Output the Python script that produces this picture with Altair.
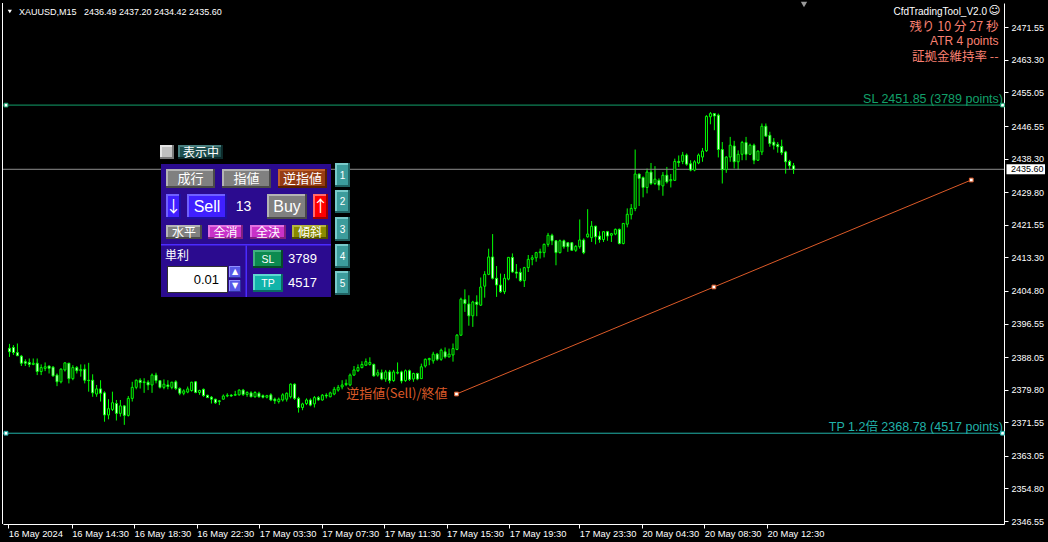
import altair as alt
import pandas as pd

# ---------------- XAUUSD M15 candles ----------------
opens = [
    2390.3, 2390.5, 2389.2, 2388.3, 2386.9, 2386.7, 2386.2, 2386.5, 2384.4, 2385.2,
    2385.8, 2385.5, 2383.5, 2381.8, 2384.8, 2386.5, 2382.6, 2385.4, 2384.6, 2385.0,
    2382.2, 2382.2, 2378.7, 2380.0, 2379.0, 2373.4, 2374.8, 2376.3, 2373.8, 2375.7,
    2373.3, 2377.6, 2380.4, 2382.2, 2381.6, 2381.7, 2381.0, 2383.5, 2382.1, 2380.4,
    2381.0, 2380.4, 2381.8, 2380.1, 2378.9, 2379.2, 2379.6, 2381.8, 2379.1, 2379.9,
    2378.4, 2377.9, 2377.4, 2376.8, 2377.4, 2378.2, 2378.4, 2378.4, 2378.5, 2379.7,
    2378.6, 2379.0, 2378.0, 2378.9, 2378.3, 2377.9, 2378.5, 2377.4, 2376.8, 2377.2,
    2377.4, 2378.0, 2381.2, 2377.6, 2375.3, 2376.3, 2377.2, 2376.2, 2377.8, 2377.2,
    2378.4, 2378.0, 2378.7, 2379.7, 2380.5, 2381.1, 2381.0, 2383.5, 2384.6, 2385.4,
    2386.0, 2386.2, 2386.2, 2383.5, 2384.1, 2382.5, 2384.3, 2382.1, 2384.0, 2384.3,
    2382.1, 2384.6, 2382.5, 2383.9, 2382.6, 2385.8, 2387.4, 2387.1, 2388.8, 2387.5,
    2389.4, 2388.1, 2388.6, 2390.0, 2393.6, 2402.6, 2401.5, 2398.5, 2402.0, 2401.2,
    2406.0, 2409.0, 2413.4, 2408.0, 2406.3, 2404.6, 2407.8, 2413.3, 2409.6, 2409.5,
    2407.4, 2410.7, 2412.8, 2413.2, 2414.5, 2414.5, 2416.6, 2418.9, 2417.5, 2414.5,
    2417.5, 2417.0, 2417.0, 2415.1, 2416.0, 2417.7, 2418.5, 2418.3, 2421.2, 2418.7,
    2417.8, 2419.8, 2418.9, 2419.2, 2420.4, 2416.8, 2421.7, 2424.1, 2425.7, 2434.4,
    2433.5, 2431.0, 2434.9, 2432.0, 2432.8, 2431.4, 2434.1, 2432.7, 2432.8, 2437.6,
    2437.6, 2439.2, 2437.0, 2435.4, 2437.2, 2438.7, 2440.3, 2448.9, 2449.7, 2449.3,
    2440.6, 2435.5, 2438.7, 2441.5, 2437.5, 2439.4, 2442.4, 2439.4, 2441.7, 2437.9,
    2440.0, 2446.5, 2444.2, 2442.5, 2441.9, 2441.4, 2440.0, 2437.6, 2436.49,
]
highs = [
    2391.4, 2391.1, 2391.5, 2388.6, 2387.5, 2387.7, 2387.7, 2387.7, 2386.2, 2386.7,
    2385.9, 2385.8, 2383.9, 2385.2, 2386.7, 2386.6, 2386.0, 2385.8, 2386.2, 2386.2,
    2386.6, 2383.7, 2381.0, 2382.2, 2379.4, 2377.4, 2379.3, 2377.2, 2377.2, 2375.9,
    2378.2, 2381.8, 2382.4, 2382.7, 2382.7, 2382.2, 2383.9, 2384.1, 2382.2, 2382.4,
    2382.2, 2381.8, 2382.2, 2380.4, 2379.9, 2380.6, 2381.8, 2382.0, 2379.8, 2380.1,
    2378.5, 2378.2, 2377.5, 2377.2, 2378.6, 2378.9, 2378.7, 2379.5, 2379.9, 2380.0,
    2379.4, 2379.4, 2379.4, 2379.3, 2378.6, 2378.5, 2378.9, 2377.8, 2377.8, 2378.9,
    2379.1, 2381.4, 2381.4, 2378.0, 2376.5, 2377.6, 2377.6, 2378.2, 2378.2, 2378.7,
    2378.9, 2379.3, 2380.5, 2381.0, 2382.2, 2382.4, 2383.9, 2385.8, 2386.2, 2387.0,
    2387.7, 2388.0, 2386.4, 2384.9, 2384.9, 2384.8, 2384.8, 2384.8, 2386.7, 2384.6,
    2384.9, 2384.9, 2384.1, 2384.1, 2386.4, 2387.7, 2387.9, 2389.4, 2389.1, 2390.2,
    2390.5, 2390.2, 2391.5, 2393.9, 2403.1, 2405.2, 2403.7, 2402.3, 2403.7, 2408.2,
    2409.8, 2415.5, 2419.2, 2411.1, 2409.2, 2409.1, 2413.4, 2414.3, 2411.6, 2410.5,
    2410.9, 2413.9, 2413.9, 2414.7, 2415.5, 2416.8, 2419.5, 2419.3, 2417.7, 2417.8,
    2417.8, 2417.2, 2417.2, 2416.4, 2422.9, 2418.1, 2425.5, 2422.5, 2421.3, 2419.9,
    2419.9, 2420.0, 2419.5, 2420.6, 2420.6, 2422.0, 2425.7, 2426.8, 2440.6, 2434.5,
    2433.8, 2435.8, 2437.2, 2436.4, 2433.3, 2434.9, 2436.2, 2434.4, 2438.3, 2439.1,
    2440.0, 2439.6, 2437.9, 2437.9, 2439.6, 2441.0, 2449.3, 2450.1, 2449.8, 2449.7,
    2442.5, 2438.9, 2443.8, 2442.8, 2440.4, 2442.8, 2443.8, 2442.1, 2442.1, 2440.4,
    2447.2, 2447.2, 2445.1, 2443.5, 2442.5, 2443.1, 2440.3, 2438.0, 2437.20,
]
lows = [
    2388.1, 2388.6, 2388.3, 2385.8, 2385.8, 2385.5, 2386.0, 2383.5, 2383.5, 2384.5,
    2383.9, 2383.1, 2380.7, 2381.4, 2384.4, 2381.4, 2382.2, 2383.9, 2383.1, 2381.4,
    2379.3, 2378.0, 2378.0, 2376.8, 2371.7, 2372.3, 2374.4, 2372.0, 2373.0, 2370.9,
    2373.0, 2376.8, 2379.9, 2380.1, 2379.0, 2379.7, 2379.0, 2381.4, 2380.1, 2379.9,
    2379.9, 2379.9, 2379.7, 2378.4, 2378.4, 2378.9, 2379.3, 2378.9, 2378.5, 2378.0,
    2377.7, 2376.3, 2376.2, 2375.9, 2377.3, 2377.9, 2378.0, 2378.2, 2378.3, 2378.2,
    2378.0, 2377.9, 2377.8, 2377.8, 2377.6, 2377.6, 2376.9, 2376.2, 2376.3, 2376.8,
    2376.8, 2377.6, 2377.2, 2374.0, 2374.6, 2375.9, 2375.6, 2375.3, 2377.0, 2377.0,
    2377.6, 2377.9, 2378.4, 2379.3, 2379.9, 2380.7, 2380.7, 2383.3, 2384.3, 2385.2,
    2385.8, 2385.9, 2383.1, 2383.1, 2382.2, 2381.8, 2381.4, 2381.8, 2383.7, 2381.4,
    2381.8, 2382.0, 2381.8, 2382.2, 2382.5, 2385.4, 2386.0, 2386.4, 2387.1, 2387.1,
    2387.7, 2388.0, 2386.9, 2389.8, 2393.4, 2399.5, 2396.0, 2395.7, 2398.4, 2401.0,
    2403.1, 2408.8, 2407.7, 2403.3, 2404.3, 2404.0, 2407.5, 2409.4, 2408.0, 2407.1,
    2405.8, 2409.6, 2411.3, 2412.2, 2413.0, 2413.3, 2416.0, 2416.4, 2411.3, 2414.3,
    2415.5, 2414.7, 2415.0, 2414.7, 2415.5, 2414.1, 2418.3, 2417.2, 2416.6, 2417.0,
    2417.2, 2417.5, 2417.2, 2418.9, 2416.6, 2416.6, 2420.9, 2422.9, 2425.0, 2426.3,
    2428.5, 2429.5, 2431.6, 2431.6, 2430.3, 2428.9, 2432.0, 2431.0, 2432.7, 2436.2,
    2436.9, 2436.5, 2435.1, 2435.1, 2436.9, 2437.5, 2440.0, 2447.0, 2445.5, 2438.6,
    2432.0, 2434.7, 2437.5, 2435.8, 2435.5, 2437.9, 2437.9, 2439.2, 2436.9, 2437.7,
    2439.2, 2443.8, 2441.3, 2440.6, 2439.8, 2439.2, 2434.5, 2435.5, 2434.42,
]
closes = [
    2389.4, 2389.2, 2388.4, 2386.5, 2386.5, 2386.2, 2386.5, 2384.4, 2385.4, 2385.6,
    2385.2, 2383.3, 2381.8, 2385.0, 2386.6, 2382.6, 2385.4, 2384.6, 2384.9, 2382.2,
    2382.1, 2379.0, 2380.0, 2378.9, 2373.4, 2375.0, 2376.5, 2373.8, 2375.7, 2373.3,
    2377.6, 2380.4, 2382.2, 2381.6, 2381.8, 2381.0, 2383.5, 2382.1, 2380.4, 2381.2,
    2380.6, 2381.7, 2380.1, 2378.9, 2379.5, 2380.0, 2381.7, 2379.1, 2379.6, 2378.3,
    2377.8, 2377.4, 2376.5, 2377.0, 2378.2, 2378.4, 2378.2, 2378.6, 2379.7, 2378.6,
    2379.1, 2378.0, 2379.1, 2378.0, 2377.9, 2378.3, 2377.2, 2377.0, 2377.4, 2378.5,
    2378.9, 2381.2, 2377.6, 2375.3, 2376.2, 2377.2, 2375.9, 2377.8, 2377.2, 2378.4,
    2378.2, 2379.0, 2379.9, 2380.4, 2381.0, 2381.4, 2383.5, 2384.8, 2385.4, 2386.2,
    2386.9, 2386.7, 2383.3, 2384.1, 2382.5, 2384.3, 2382.1, 2384.3, 2384.2, 2382.0,
    2384.6, 2382.4, 2383.9, 2382.5, 2385.6, 2387.5, 2387.7, 2388.8, 2387.5, 2389.8,
    2388.1, 2388.8, 2390.2, 2393.6, 2402.7, 2401.6, 2398.5, 2402.0, 2401.4, 2405.8,
    2409.0, 2413.4, 2408.0, 2406.3, 2404.6, 2408.0, 2413.3, 2409.6, 2409.3, 2407.4,
    2410.7, 2412.8, 2413.2, 2414.5, 2414.7, 2416.6, 2418.9, 2417.5, 2414.5, 2417.5,
    2416.0, 2416.0, 2415.1, 2416.1, 2417.7, 2414.5, 2419.2, 2421.2, 2418.5, 2417.8,
    2419.8, 2418.7, 2419.3, 2420.4, 2416.8, 2421.9, 2424.2, 2425.7, 2434.4, 2433.3,
    2431.0, 2434.9, 2432.0, 2433.1, 2431.6, 2434.1, 2432.4, 2433.0, 2437.6, 2437.3,
    2439.2, 2436.9, 2435.4, 2437.5, 2439.2, 2440.2, 2449.0, 2449.7, 2449.1, 2440.6,
    2435.5, 2438.7, 2441.7, 2437.5, 2439.4, 2442.4, 2439.4, 2441.7, 2437.9, 2440.2,
    2446.5, 2444.0, 2442.1, 2441.7, 2441.3, 2439.8, 2437.5, 2436.5, 2435.60,
]

# time axis: bar position of each label
time_tick_bars = [-0.3, 15.7, 31.45, 47.3, 63.05, 78.875, 94.625, 110.375,
                  126.2, 143.875, 159.7, 175.45, 191.3]
time_tick_labels = ["16 May 2024", "16 May 14:30", "16 May 18:30", "16 May 22:30",
                    "17 May 03:30", "17 May 07:30", "17 May 11:30", "17 May 15:30",
                    "17 May 19:30", "17 May 23:30", "20 May 04:30", "20 May 08:30",
                    "20 May 12:30"]

price_ticks = [2471.55, 2463.30, 2455.05, 2446.55, 2438.30, 2429.80, 2421.55, 2413.30,
               2404.80, 2396.55, 2388.05, 2379.80, 2371.55, 2363.05, 2354.80, 2346.55]

current_price = 2435.60
sl_price, sl_points = 2451.85, 3789
tp_price, tp_points = 2368.78, 4517
trend_bars = [112.875, 242.875]
trend_prices = [2378.71, 2432.89]

# ---------------- styling ----------------
W, H = 1001, 521
OX, OY = 3, 3          # plot origin inside the page
AXIS_FONT = "Liberation Sans"
CJK = "Noto Sans CJK JP"
CANDLE = "#00ff00"
SL_COLOR = "#12a06a"
TP_COLOR = "#20b2aa"
TREND_COLOR = "#dc5a28"
SALMON = "#fa8072"

xs = alt.Scale(domain=[-0.375, 249.875], nice=False, zero=False)
ys = alt.Scale(domain=[2345.80, 2477.70], nice=False, zero=False)

label_expr = ("[" + ",".join("'%s'" % t for t in time_tick_labels) + "][indexof(["
              + ",".join(str(v) for v in time_tick_bars) + "], datum.value)]")

x_axis = alt.Axis(values=time_tick_bars, labelExpr=label_expr, orient="bottom",
                  domainColor="white", domainWidth=1, tickColor="white", tickSize=4,
                  labelColor="white", labelFont=AXIS_FONT, labelFontSize=9.4,
                  labelAlign="left", labelBaseline="top", labelPadding=1,
                  labelFlush=False, labelOverlap=False, labelBound=False,
                  grid=False, title=None)
y_axis = alt.Axis(values=price_ticks, format=".2f", orient="right",
                  domainColor="white", domainWidth=1, tickColor="white", tickSize=4,
                  labelColor="white", labelFont=AXIS_FONT, labelFontSize=9,
                  labelAlign="left", labelBaseline="middle", labelPadding=3,
                  labelFlush=False, labelOverlap=False, labelBound=False,
                  grid=False, title=None)


def X(field):
    return alt.X(field, scale=xs, axis=x_axis)


def Y(field):
    return alt.Y(field, scale=ys, axis=y_axis)


bars = pd.DataFrame({"bar": range(len(opens)), "open": opens, "high": highs,
                     "low": lows, "close": closes})
bars["dir"] = ["up" if c >= o else "down" for o, c in zip(opens, closes)]

one = pd.DataFrame({"k": [0]})

# left frame edge
left_edge = alt.Chart(one).mark_rule(color="white", strokeWidth=1).encode(
    x=alt.value(-0.5), y=alt.value(0), y2=alt.value(H))

levels = pd.DataFrame({
    "price": [current_price, sl_price, tp_price],
    "color": ["#8e8e8e", SL_COLOR, TP_COLOR],
})
level_lines = alt.Chart(levels).mark_rule(strokeWidth=1).encode(
    y=Y("price:Q"), color=alt.Color("color:N", scale=None))

orders = pd.DataFrame({
    "price": [sl_price, tp_price],
    "color": [SL_COLOR, TP_COLOR],
    "label": ["SL %.2f (%d points)" % (sl_price, sl_points),
              "TP 1.2倍 %.2f (%d points)" % (tp_price, tp_points)],
})
order_labels = alt.Chart(orders).mark_text(
    align="right", baseline="alphabetic", dy=-2.5, fontSize=12.5,
    font=AXIS_FONT + ", " + CJK).encode(
    x=alt.value(1000), y=Y("price:Q"),
    text="label:N", color=alt.Color("color:N", scale=None))
order_left = alt.Chart(orders).mark_square(size=14, fill="white", strokeWidth=1, opacity=1).encode(
    x=alt.value(3), y=Y("price:Q"), stroke=alt.Stroke("color:N", scale=None))
order_right = alt.Chart(orders).mark_square(size=14, fill="white", strokeWidth=1, opacity=1).encode(
    x=alt.value(999.5), y=Y("price:Q"), stroke=alt.Stroke("color:N", scale=None))

trend = pd.DataFrame({"bar": trend_bars, "price": trend_prices})
trend_line = alt.Chart(trend).mark_line(color=TREND_COLOR, strokeWidth=1).encode(
    x=X("bar:Q"), y=Y("price:Q"))
anchors = pd.DataFrame({
    "bar": [trend_bars[0], sum(trend_bars) / 2, trend_bars[1]],
    "price": [trend_prices[0], sum(trend_prices) / 2, trend_prices[1]],
})
trend_anchors = alt.Chart(anchors).mark_square(size=14, fill="white", stroke=TREND_COLOR,
                                               strokeWidth=1, opacity=1).encode(
    x=X("bar:Q"), y=Y("price:Q"))
trend_text = alt.Chart(trend.head(1).assign(label="逆指値(Sell)/終値")).mark_text(
    align="right", baseline="middle", dx=-9, fontSize=13, font=CJK, color=TREND_COLOR).encode(
    x=X("bar:Q"), y=Y("price:Q"), text="label:N")

wicks = alt.Chart(bars).mark_rule(color=CANDLE, strokeWidth=1).encode(
    x=X("bar:Q"), y=Y("low:Q"), y2="high:Q")
bodies = alt.Chart(bars).mark_bar(size=2, stroke=CANDLE, strokeWidth=1).encode(
    x=X("bar:Q"), y=Y("open:Q"), y2="close:Q",
    fill=alt.Fill("dir:N", scale=alt.Scale(domain=["up", "down"], range=["#000000", "#ffffff"]),
                  legend=None))

# bid price tag on the price scale
cur = pd.DataFrame({"price": [current_price]})
cur_box = alt.Chart(cur).mark_rect(color="white", yOffset=-5, y2Offset=5).encode(
    x=alt.value(1003.5), x2=alt.value(1042), y=Y("price:Q"), y2="price:Q")
cur_text = alt.Chart(cur).mark_text(align="left", baseline="middle", font=AXIS_FONT,
                                    fontSize=9, color="black").encode(
    x=alt.value(1008), y=Y("price:Q"), text=alt.Text("price:Q", format=".2f"))

# ---------------- trading panel widgets (page pixels) ----------------
rects = []


def box(x0, y0, x1, y1, fill):
    rects.append({"x0": x0 - OX, "y0": y0 - OY, "x1": x1 - OX, "y1": y1 - OY, "fill": fill})


def button(x0, y0, x1, y1, face, light, dark, edge=2):
    box(x0, y0, x1, y1, dark)
    box(x0, y0, x1 - edge, y1 - edge, light)
    box(x0 + edge, y0 + edge, x1 - edge, y1 - edge, face)


GRAY = ("#808080", "#b4b4b4", "#4a4a4a")
MAGENTA = ("#c832c8", "#e070e0", "#802080")
TEAL_BTN = ("#3c9c9c", "#78caca", "#206262")

button(160, 145, 174, 159, "#c0c0c0", "#e4e4e4", "#7a7a7a")
button(178, 145, 223, 159, "#1e4e4e", "#4a8080", "#0c2a2a")
box(161, 164, 331, 297, "#2b0b8f")
button(166, 169, 215, 188, *GRAY)
button(222, 169, 271, 188, *GRAY)
button(278, 169, 327, 188, "#963c14", "#c0602c", "#5a2000")
button(166, 194, 181, 219, "#4020ff", "#7060ff", "#2010a0")
button(187, 194, 227, 219, "#4020ff", "#7060ff", "#2010a0")
button(267, 194, 307, 219, *GRAY)
button(313, 194, 328, 219, "#ff0000", "#ff6a6a", "#a00000")
button(166, 225, 202, 239, *GRAY)
button(208, 225, 243, 239, *MAGENTA)
button(250, 225, 286, 239, *MAGENTA)
button(292, 225, 328, 239, "#8a8a00", "#b4b440", "#505000")
box(161, 244, 331, 245.5, "#4b2bff")
box(245.5, 245.5, 247, 297, "#4b2bff")
box(167, 266, 228, 293, "#303030")
box(168, 267, 227, 292, "#ffffff")
button(229, 266, 241, 278, "#5858e8", "#9090ff", "#3030a0", edge=1)
button(229, 280, 241, 292, "#5858e8", "#9090ff", "#3030a0", edge=1)
button(253, 250, 283, 268, "#0c8a50", "#40b080", "#064a2a")
button(253, 274, 283, 292, "#12b4aa", "#60d8d0", "#0a6a64")
for y0, y1 in [(163, 187), (190, 213), (217, 241), (244, 268), (271, 295)]:
    button(335, y0, 350, y1, *TEAL_BTN)

widget_rects = alt.Chart(pd.DataFrame(rects)).mark_rect().encode(
    x=alt.X("x0:Q", scale=None), x2="x1:Q",
    y=alt.Y("y0:Q", scale=None), y2="y1:Q",
    fill=alt.Fill("fill:N", scale=None))


def texts(rows, font, align, baseline="middle"):
    df = pd.DataFrame([{"x": x - OX, "y": y - OY, "text": t, "color": c, "size": s}
                       for x, y, t, c, s in rows])
    return alt.Chart(df).mark_text(font=font, align=align, baseline=baseline).encode(
        x=alt.X("x:Q", scale=None), y=alt.Y("y:Q", scale=None),
        text="text:N", color=alt.Color("color:N", scale=None),
        size=alt.Size("size:Q", scale=None))


cjk_center = texts([
    (201, 152.5, "表示中", "white", 12),
    (190.5, 178.5, "成行", "white", 13),
    (246.5, 178.5, "指値", "white", 13),
    (302.5, 178.5, "逆指値", "white", 13),
    (173.5, 206.5, "↓", "white", 16),
    (320.5, 206.5, "↑", "white", 16),
    (184, 232.5, "水平", "white", 12),
    (225.5, 232.5, "全消", "white", 12),
    (268, 232.5, "全決", "white", 12),
    (310, 232.5, "傾斜", "white", 12),
], CJK, "center")
cjk_left = texts([(165, 255.5, "単利", "white", 12)], CJK, "left")
latin_center = texts([
    (207, 206.5, "Sell", "white", 16),
    (243.5, 206.5, "13", "white", 14),
    (287, 206.5, "Buy", "white", 16),
    (268, 259.5, "SL", "white", 10.5),
    (268, 283.5, "TP", "white", 10.5),
    (342.5, 175.5, "1", "white", 10),
    (342.5, 202, "2", "white", 10),
    (342.5, 229.5, "3", "white", 10),
    (342.5, 256.5, "4", "white", 10),
    (342.5, 283.5, "5", "white", 10),
], AXIS_FONT, "center")
latin_left = texts([
    (288, 258.5, "3789", "white", 13),
    (288, 282.5, "4517", "white", 13),
    (19, 12, "XAUUSD,M15\u00a0\u00a0\u00a02436.49 2437.20 2434.42 2435.60", "white", 9),
], AXIS_FONT, "left")
latin_right = texts([
    (219, 280, "0.01", "black", 13),
    (987, 11.5, "CfdTradingTool_V2.0", "white", 10),
    (998.5, 40.5, "ATR 4 points", SALMON, 12),
], AXIS_FONT, "right")
cjk_right = texts([
    (998.5, 26.5, "残り 10 分 27 秒", SALMON, 12.5),
    (998.5, 56.5, "証拠金維持率 --", SALMON, 12.5),
], CJK, "right")
symbols = texts([
    (994.5, 11, "☺", "white", 11.5),
    (235, 272, "▲", "white", 8),
    (235, 286, "▼", "white", 8),
], "DejaVu Sans", "center")

menu_tri = alt.Chart(one).mark_point(shape="triangle-down", filled=True, size=18,
                                     color="white", opacity=1).encode(
    x=alt.value(9.8 - OX), y=alt.value(11.5 - OY))
shift_tri = alt.Chart(one).mark_point(shape="triangle-down", filled=True, size=40,
                                      color="#9a9a9a", opacity=1).encode(
    x=alt.value(804 - OX), y=alt.value(4.5 - OY))

chart = alt.layer(
    wicks, left_edge, level_lines, trend_line, bodies, order_left, order_right,
    trend_anchors, order_labels, trend_text, cur_box, cur_text,
    widget_rects, cjk_center, cjk_left, latin_center, latin_left, latin_right,
    cjk_right, symbols, menu_tri, shift_tri,
).properties(
    width=W, height=H,
    padding={"left": OX, "top": OY, "right": 44, "bottom": 18},
    autosize=alt.AutoSizeParams(type="none"),
    background="black",
).configure_view(stroke=None)

chart.save("out.html", embed_options={"renderer": "svg", "actions": False})
